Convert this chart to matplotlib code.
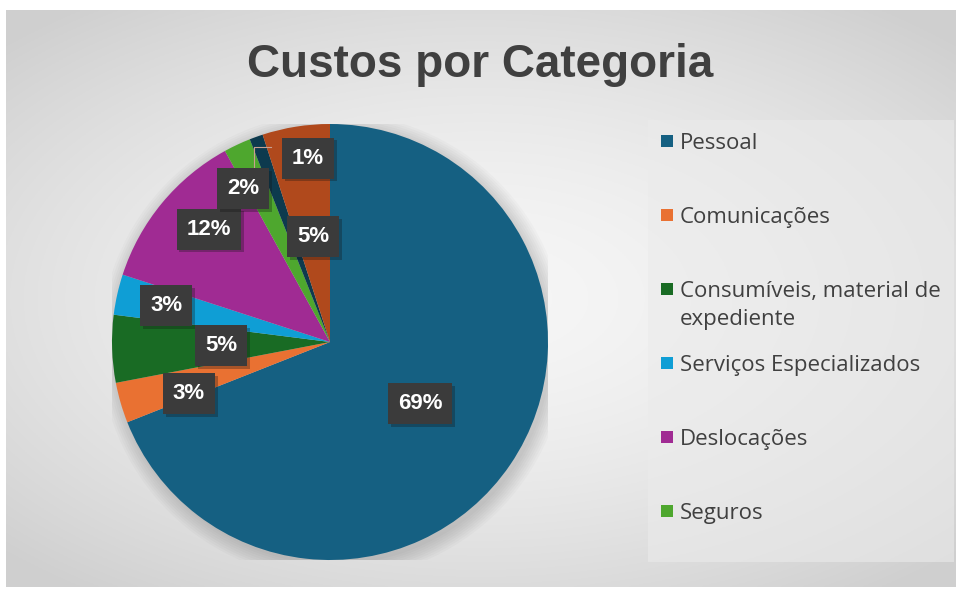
import matplotlib.pyplot as plt
import matplotlib.patheffects as pe
import numpy as np

categorias = ['Pessoal', 'Comunicações', 'Consumíveis, material de\nexpediente',
              'Serviços Especializados', 'Deslocações', 'Seguros', 'Outros', 'Outros 2']
valores = [69, 3, 5, 3, 12, 2, 1, 5]
cores = ['#156082', '#E97132', '#196B24', '#0F9ED5', '#A02B93', '#4EA72E', '#0D3A4E', '#B0491C']
n_legenda = 6

# label placement (fraction of radius, angle nudge in degrees)
lab_dist = [0.50, 0.69, 0.50, 0.77, 0.76, 0.81, 0.85, 0.49]
lab_nudge = [0, 4, 0, 0, -3.4, 4.3, -13, 0]

W, H = 960, 589
fig = plt.figure(figsize=(W / 100, H / 100), dpi=100)
fig.patch.set_facecolor('white')

# background gradient panel
bg = fig.add_axes([6 / W, 1 - 587 / H, 950 / W, 577 / H])
yy, xx = np.mgrid[-1:1:300j, -1:1:500j]
r = np.sqrt((xx / 1.0) ** 2 + (yy / 0.9) ** 2)
g = 0.965 - 0.15 * np.clip(r, 0, 1.4) ** 1.6 / 1.4 ** 1.6
bg.imshow(np.dstack([g, g, g]), aspect='auto', extent=[0, 1, 0, 1])
bg.set_axis_off()

# legend panel
leg_bg = fig.add_axes([648 / W, 1 - 562 / H, 306 / W, 442 / H])
leg_bg.set_facecolor('#ebebeb')
leg_bg.set_xticks([])
leg_bg.set_yticks([])
for s in leg_bg.spines.values():
    s.set_visible(False)
leg_bg.patch.set_alpha(0.6)

fig.text(0.5, 1 - 77 / H, 'Custos por Categoria', ha='center', va='baseline',
         fontsize=33, fontweight='bold', color='#404040', family='Liberation Sans')

cx, cy, R = 330, 342, 218
ax = fig.add_axes([(cx - R) / W, (H - cy - R) / H, 2 * R / W, 2 * R / H])

# soft shadow
for k in range(8):
    c = plt.Circle((0.015, -0.02), 1.0 + 0.01 * k, color='black', alpha=0.018, lw=0)
    ax.add_patch(c)

wedges, _ = ax.pie(valores, colors=cores, startangle=90, counterclock=False,
                   radius=1.0, wedgeprops=dict(linewidth=0))
ax.set_xlim(-1, 1)
ax.set_ylim(-1, 1)
ax.set_aspect('equal')
ax.set_axis_off()

for i, w in enumerate(wedges):
    mid = np.deg2rad((w.theta1 + w.theta2) / 2 + lab_nudge[i])
    x = lab_dist[i] * np.cos(mid)
    y = lab_dist[i] * np.sin(mid)
    t = ax.text(x, y, f'{valores[i]}%', ha='center', va='center', fontsize=16,
                fontweight='bold', color='white', family='Liberation Sans',
                bbox=dict(boxstyle='square,pad=0.45', fc='#3b3b3b', ec='none'),
                zorder=5)
    t.get_bbox_patch().set_path_effects([
        pe.SimplePatchShadow(offset=(2, -2), alpha=0.3), pe.Normal()])

# leader line for the 1% label
w = wedges[6]
mid = np.deg2rad((w.theta1 + w.theta2) / 2)
ang = np.deg2rad((w.theta1 + w.theta2) / 2 - 13)
lx, ly = 0.85 * np.cos(ang), 0.85 * np.sin(ang)
ax.plot([lx - 0.17, lx - 0.25, lx - 0.25], [ly + 0.05, ly + 0.05, 0.78 * np.sin(mid)],
        color='#c8a090', lw=0.8, zorder=4)

# legend
for i in range(n_legenda):
    ytop = 141 + 74 * i
    fig.patches.append(plt.Rectangle((661 / W, 1 - (ytop + 6) / H), 12 / W, 12 / H,
                                     transform=fig.transFigure, color=cores[i], lw=0))
    for j, linha in enumerate(categorias[i].split('\n')):
        fig.text(680 / W, 1 - (ytop + 8 + 28 * j) / H, linha, ha='left',
                 va='baseline', fontsize=16, color='#404040', family='Open Sans')

fig.savefig('out.png', dpi=100)
